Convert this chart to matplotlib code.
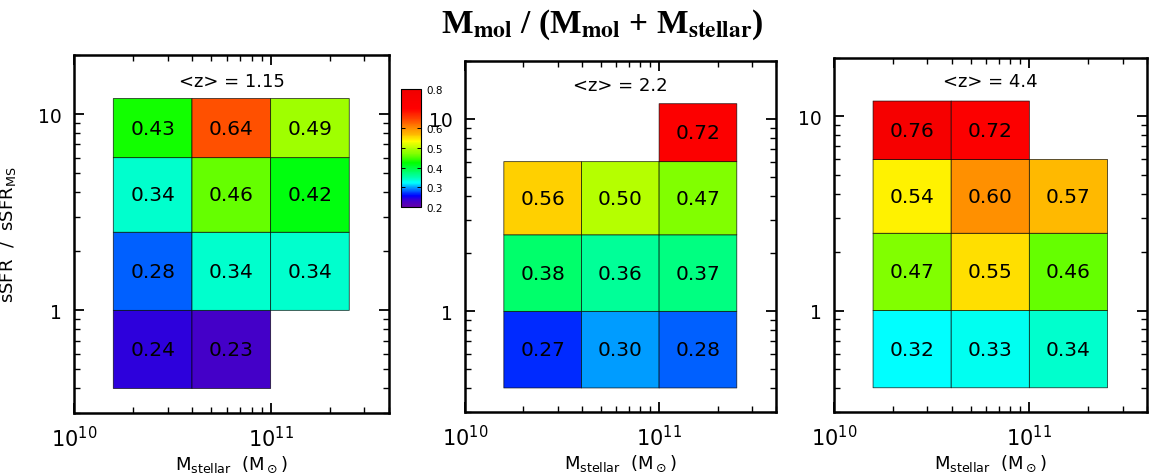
import numpy as np
import matplotlib
matplotlib.use('Agg')
import matplotlib.pyplot as plt
from matplotlib.colors import LinearSegmentedColormap, Normalize
from matplotlib.ticker import FixedLocator, FuncFormatter, LogLocator, NullFormatter

nan = np.nan

# ---------------- data ----------------
mass_edges = [10**10.2, 10**10.6, 10**11.0, 10**11.4]   # M_stellar bin edges
ssfr_edges = [0.4, 1.0, 2.5, 6.0, 12.0]                 # sSFR/sSFR_MS bin edges

redshift_labels = ['<z> = 1.15', '<z> = 2.2', '<z> = 4.4']

# rows: from lowest sSFR bin to highest; columns: mass bins
frac_z115 = [[0.24, 0.23, nan],
             [0.28, 0.34, 0.34],
             [0.34, 0.46, 0.42],
             [0.43, 0.64, 0.49]]
frac_z22 = [[0.27, 0.30, 0.28],
            [0.38, 0.36, 0.37],
            [0.56, 0.50, 0.47],
            [nan, nan, 0.72]]
frac_z44 = [[0.32, 0.33, 0.34],
            [0.47, 0.55, 0.46],
            [0.54, 0.60, 0.57],
            [0.76, 0.72, nan]]

cbar_ticks = [0.2, 0.3, 0.4, 0.5, 0.6, 0.8]

# colour table anchors (value -> colour)
cmap_values = [0.20, 0.235, 0.255, 0.27, 0.28, 0.30, 0.32, 0.33, 0.34, 0.36, 0.38,
               0.425, 0.43, 0.46, 0.47, 0.49, 0.50, 0.535, 0.55, 0.56, 0.57, 0.60,
               0.64, 0.70, 0.80]
cmap_colors = ['#6400A8', '#3C00D0', '#0000FF', '#0030FF', '#0060FF', '#00A0FF',
               '#00FFFF', '#00FFF0', '#00FFC8', '#00FF98', '#00FF68', '#00FF00',
               '#10FF00', '#68FF00', '#80FF00', '#A0FF00', '#B8FF00', '#FFFF00',
               '#FFE000', '#FFD000', '#FFB800', '#FF9000', '#FF5000', '#FF0000',
               '#F00000']

vmin, vmax = 0.2, 0.8
# --------------------------------------

W, H = 1149, 477
fig = plt.figure(figsize=(W / 100, H / 100), dpi=100)

cmap = LinearSegmentedColormap.from_list(
    'idl_rainbow',
    [((v - vmin) / (vmax - vmin), c) for v, c in zip(cmap_values, cmap_colors)])
norm = Normalize(vmin=vmin, vmax=vmax)

# axes boxes in pixels: left, right, top, bottom
boxes = [(74, 389, 56, 414), (465, 776, 62, 413), (834, 1147, 59, 413)]
title_y = [0.927, 0.932, 0.935]
grids = [frac_z115, frac_z22, frac_z44]

def ytick_fmt(v, pos):
    if v >= 1:
        return '%d' % round(v)
    return '%g' % v

for i, (box, grid, lab) in enumerate(zip(boxes, grids, redshift_labels)):
    l, r, t, b = box
    ax = fig.add_axes([l / W, (H - b) / H, (r - l) / W, (b - t) / H])
    data = np.ma.masked_invalid(np.array(grid, dtype=float))
    ax.pcolor(mass_edges, ssfr_edges, data, cmap=cmap, norm=norm,
              edgecolors=(0, 0, 0, 0.75), linewidth=0.6)
    xc = np.sqrt(np.array(mass_edges[:-1]) * np.array(mass_edges[1:]))
    yc = np.sqrt(np.array(ssfr_edges[:-1]) * np.array(ssfr_edges[1:]))
    for ri in range(data.shape[0]):
        for ci in range(data.shape[1]):
            v = grid[ri][ci]
            if not np.isnan(v):
                ax.text(xc[ci], yc[ri], '%.2f' % v, ha='center', va='center',
                        fontsize=14.5, color='black')
    ax.set_xscale('log')
    ax.set_yscale('log')
    ax.set_xlim(1e10, 4e11)
    ax.set_ylim(0.3, 20)
    ax.xaxis.set_major_locator(FixedLocator([1e10, 1e11]))
    ax.xaxis.set_minor_locator(LogLocator(base=10, subs=np.arange(2, 10)))
    ax.xaxis.set_minor_formatter(NullFormatter())
    ax.yaxis.set_major_locator(FixedLocator([1, 10]))
    ax.yaxis.set_major_formatter(FuncFormatter(ytick_fmt))
    ax.yaxis.set_minor_locator(LogLocator(base=10, subs=np.arange(2, 10)))
    ax.yaxis.set_minor_formatter(NullFormatter())
    ax.tick_params(which='both', direction='in', top=True, right=True)
    ax.tick_params(axis='x', labelsize=15)
    ax.tick_params(axis='y', labelsize=13.5)
    ax.tick_params(which='major', length=7, width=1.3, pad=9)
    ax.tick_params(which='minor', length=4, width=1.0)
    for sp in ax.spines.values():
        sp.set_linewidth(1.8)
    ax.text(0.5, title_y[i], lab, transform=ax.transAxes, ha='center',
            va='center', fontsize=13)
    ax.set_xlabel(r'M$_{\rm stellar}$  (M$_\odot$)', fontsize=13, labelpad=2)
    if i == 0:
        ax.set_ylabel(r'sSFR  /  sSFR$_{\rm MS}$', fontsize=13, labelpad=14)

# colour bar
cax = fig.add_axes([401 / W, (H - 208) / H, 20 / W, 118 / H])
sm = plt.cm.ScalarMappable(cmap=cmap, norm=norm)
cb = fig.colorbar(sm, cax=cax, ticks=cbar_ticks)
cb.ax.set_yticklabels(['%.1f' % v for v in cbar_ticks])
cb.ax.tick_params(labelsize=7.5, direction='in', length=3, width=0.7,
                  left=True, right=True, pad=4)
cb.outline.set_linewidth(0.8)

# main title
fig.text(602 / W, 1 - 25 / H,
         r'M$_\mathbf{mol}$ / (M$_\mathbf{mol}$ + M$_\mathbf{stellar}$)',
         ha='center', va='center', fontsize=24, fontweight='bold',
         family='Liberation Serif', math_fontfamily='stix')

fig.savefig('out.png', dpi=100)
